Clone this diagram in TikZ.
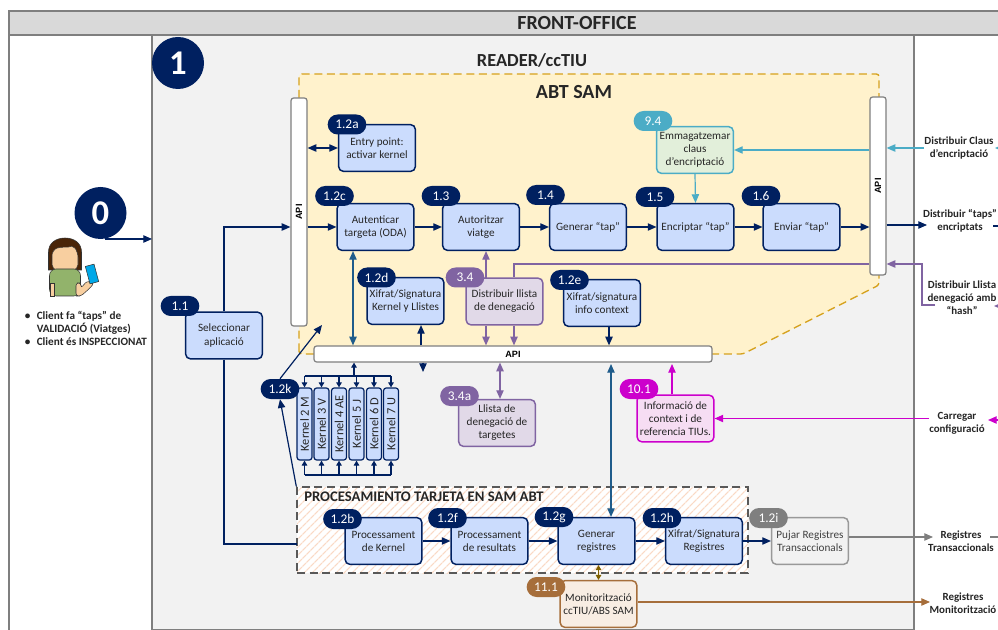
\documentclass[tikz,border=0pt]{standalone}
\usepackage{fontspec}
\setmainfont{Carlito}
\newfontfamily\apifont{Liberation Sans}
\usetikzlibrary{arrows.meta,shapes.misc,patterns.meta}
\definecolor{navy}{HTML}{002060}
\definecolor{boxblue}{HTML}{CBDCFD}
\definecolor{steel}{HTML}{1F5C8B}
\definecolor{lila}{HTML}{8064A2}
\definecolor{lilafill}{HTML}{E1D9E8}
\definecolor{cyanline}{HTML}{4BACC6}
\definecolor{cyanfill}{HTML}{E2EFDA}
\definecolor{magline}{HTML}{CC00CC}
\definecolor{magfill}{HTML}{F6DDF3}
\definecolor{brownline}{HTML}{A66E3B}
\definecolor{brownfill}{HTML}{F8EDE3}
\definecolor{olive}{HTML}{7F6000}
\definecolor{greyline}{HTML}{7F7F7F}
\definecolor{gold}{HTML}{D6A21E}
\definecolor{yellowzone}{HTML}{FFF2CC}
\definecolor{inktext}{HTML}{262626}
\definecolor{hatchline}{HTML}{FAD9C4}
\definecolor{skintone}{HTML}{F8CFA0}
\definecolor{hairtone}{HTML}{4A2508}
\definecolor{shirttone}{HTML}{92B36B}
\definecolor{phonetone}{HTML}{00A8E8}
\newcommand{\vtext}[1]{\rotatebox{90}{#1}}
\begin{document}
\begin{tikzpicture}[x=0.75pt,y=0.75pt,>={Triangle[length=6.5pt,width=5.5pt]}]
\tikzstyle{every node}+=[inner sep=0pt]
\tikzstyle{box}=[draw=navy,fill=boxblue,line width=1.1pt,rounded corners=3.5pt,minimum width=57.5pt,minimum height=35pt,align=center,text=inktext,font=\fontsize{8.4}{9.8}\selectfont]
\tikzstyle{tag}=[rounded rectangle,fill=navy,text=white,minimum width=29pt,minimum height=15pt,font=\fontsize{10}{11}\selectfont]
\tikzstyle{kernelbox}=[draw=navy,fill=boxblue,line width=0.9pt,rounded corners=2pt,minimum width=11.2pt,minimum height=54pt,text=inktext,font=\fontsize{9.3}{10}\selectfont]
\tikzstyle{apibar}=[draw=greyline,fill=white,line width=0.9pt,rounded corners=2pt,font=\apifont\bfseries\fontsize{6.8}{8}\selectfont]
\tikzstyle{outlabel}=[align=center,text=inktext,font=\bfseries\fontsize{8.2}{9.8}\selectfont]
\tikzstyle{number}=[circle,fill=navy,text=white,minimum size=39pt,font=\bfseries\fontsize{26}{28}\selectfont]
\tikzstyle{flow}=[navy,line width=0.9pt]
\tikzstyle{steelflow}=[steel,line width=0.9pt]
\tikzstyle{lilaflow}=[lila,line width=0.9pt]
\tikzstyle{cyanflow}=[cyanline,line width=0.9pt]
\tikzstyle{magflow}=[magline,line width=0.9pt]
\tikzstyle{brownflow}=[brownline,line width=0.9pt]
\tikzstyle{greyflow}=[greyline,line width=0.9pt]
\tikzstyle{smalltip}=[>={Triangle[length=3.8pt,width=4.2pt]}]
\tikzstyle{skin}=[draw=black!80,fill=skintone,line width=0.4pt]
\useasboundingbox (0,0) rectangle (998,-630);
\fill [white] (0,0) rectangle (998,-630);
\draw [greyline,line width=1.1pt,fill=black!15] (9,-11) rectangle (1001,-35);
\draw [greyline,line width=1.1pt] (9,-35) -- (9,-633);
\draw [greyline,line width=1.1pt,fill=black!5] (152,-35) rectangle (914,-629.5);
\draw [gold,line width=1pt,dash pattern=on 6pt off 3.5pt,fill=yellowzone,rounded corners=2pt] (299,-354) -- (299,-74) -- (879,-74) -- (879,-285) -- (743,-354) -- cycle;
\node [font=\bfseries\fontsize{15}{17}\selectfont,text=black!85] (frontoffice) at (577,-23) {FRONT-OFFICE};
\node [font=\bfseries\fontsize{13.8}{15}\selectfont,text=black!85] (reader) at (532,-60) {READER/ccTIU};
\node [font=\bfseries\fontsize{15}{17}\selectfont,text=black!85] (abtsam) at (574,-92) {ABT SAM};
\node [number] (zero) at (100.5,-213) {0};
\node [number] (one) at (178,-63) {1};
\draw [pattern={Lines[angle=45,distance=4pt,line width=1pt]},pattern color=hatchline,draw=none,preaction={fill=white}] (297,-487) rectangle (748,-573);
\node [draw=black!65,dash pattern=on 6pt off 3.5pt,line width=1.1pt,minimum width=338.25pt,minimum height=64.5pt] (procesamiento) at (522.5,-530) {};
\node [anchor=west,font=\bfseries\fontsize{11}{12}\selectfont,text=black!85] (procesatitle) at (304,-497) {PROCESAMIENTO TARJETA EN SAM ABT};
\node [apibar,minimum width=12pt,minimum height=171pt] (apileft) at (299,-212) {\vtext{API}};
\node [apibar,minimum width=12pt,minimum height=133.5pt] (apiright) at (878,-186) {\vtext{API}};
\node [apibar,minimum width=298.5pt,minimum height=12pt] (apimid) at (513,-354) {API};
\node [box] (entrypoint) at (377,-148) {Entry point:\\activar kernel};
\node [box] (autenticar) at (375.5,-227) {Autenticar\\targeta (ODA)};
\node [box] (autoritzar) at (481,-227) {Autoritzar\\viatge};
\node [box] (generartap) at (588,-227) {Generar “tap”};
\node [box] (encriptar) at (695.5,-227) {Encriptar “tap”};
\node [box] (enviar) at (801.5,-227) {Enviar “tap”};
\node [box,draw=cyanline,fill=cyanfill] (emmagatzemar) at (695,-150) {Emmagatzemar\\claus\\d’encriptació};
\node [box] (xifratkernel) at (405.5,-301) {Xifrat/Signatura\\Kernel y Llistes};
\node [box,draw=lila,fill=lilafill] (distribuir) at (504.5,-301.5) {Distribuir llista\\de denegació};
\node [box] (xifratinfo) at (602,-303) {Xifrat/signatura\\info context};
\node [box] (seleccionar) at (224,-335.5) {Seleccionar\\aplicació};
\node [box,draw=lila,fill=lilafill] (llista) at (497,-423) {Llista de\\denegació de\\targetes};
\node [box,draw=magline,fill=magfill] (informacio) at (675.5,-418.5) {Informació de\\context i de\\referencia TIUs.};
\node [box] (processkernel) at (383.5,-541) {Processament\\de Kernel};
\node [box] (processresult) at (489.5,-541) {Processament\\de resultats};
\node [box] (generarreg) at (596.5,-541) {Generar\\registres};
\node [box] (xifratreg) at (704,-541) {Xifrat/Signatura\\Registres};
\node [box,draw=greyline!80,fill=black!5,text=black!75] (pujar) at (810,-541) {Pujar Registres\\Transaccionals};
\node [box,draw=brownline,fill=brownfill] (monitor) at (598.5,-604) {Monitorització\\ccTIU/ABS SAM};
\node [kernelbox] (kernelm) at (304.5,-424) {\vtext{Kernel 2 M}};
\node [kernelbox] (kernelv) at (321.5,-424) {\vtext{Kernel 3 V}};
\node [kernelbox] (kernelae) at (339,-424) {\vtext{Kernel 4 AE}};
\node [kernelbox] (kernelj) at (356.5,-424) {\vtext{Kernel 5 J}};
\node [kernelbox] (kerneld) at (374,-424) {\vtext{Kernel 6 D}};
\node [kernelbox] (kernelu) at (391,-424) {\vtext{Kernel 7 U}};
\node [outlabel] (clauslabel) at (959,-148) {Distribuir Claus\\d’encriptació};
\node [outlabel] (tapslabel) at (960,-221) {Distribuir “taps”\\encriptats};
\node [outlabel] (hashlabel) at (962,-298) {Distribuir Llista\\denegació amb\\“hash”};
\node [outlabel] (carregar) at (957,-423) {Carregar\\configuració};
\node [outlabel] (transaccionals) at (961,-541) {Registres\\Transaccionals};
\node [outlabel] (monitoritzacio) at (963,-603) {Registres\\Monitorització};
\node [anchor=north west,align=left,text=inktext,font=\bfseries\fontsize{8.4}{9.8}\selectfont] (clientlist) at (24.5,-310.5) {\makebox[9pt][l]{\textbullet}Client fa “taps” de\\\hspace*{9pt}VALIDACIÓ (Viatges)\\\makebox[9pt][l]{\textbullet}Client és INSPECCIONAT};
\coordinate (zeroout) at (105,-239);
\coordinate (frontier) at (152,-239);
\coordinate (procin) at (297,-544);
\coordinate (purpletop) at (514,-264);
\coordinate (distribleft) at (486,-278);
\coordinate (tapsout) at (927,-225);
\coordinate (tapstub) at (993,-226);
\coordinate (hashin) at (935,-305);
\coordinate (hashturn) at (922,-305);
\coordinate (hashstub) at (994,-306);
\coordinate (clausstub) at (995,-148);
\coordinate (carregarstub) at (988,-420);
\coordinate (regout) at (933,-537);
\coordinate (regstub) at (990,-537);
\coordinate (monout) at (930,-602);
\coordinate (configin) at (672,-364);
\coordinate (xifratdown) at (423,-372);
\coordinate (bustop) at (354,-376);
\coordinate (busbot) at (347,-475);
\coordinate (kernelup) at (322,-325);
\coordinate (generarup) at (611,-364);
\draw [flow,->] (zeroout) -- (frontier);
\draw [flow,->] (seleccionar.north) |- (apileft.west |- autenticar);
\draw [flow] (seleccionar.south) |- (procin);
\draw [flow,->] (apileft.east |- autenticar) -- (autenticar);
\draw [flow,<->] (apileft.east |- entrypoint) -- (entrypoint);
\draw [flow,->] (autenticar) -- (autoritzar);
\draw [flow,->] (autoritzar) -- (generartap);
\draw [flow,->] (generartap) -- (encriptar);
\draw [flow,->] (encriptar) -- (enviar);
\draw [flow,->] (enviar) -- (enviar -| apiright.west);
\draw [flow,->] (apiright.east |- tapsout) -- (tapsout);
\draw [flow] (tapstub) -- (998,-226);
\draw [cyanflow,->] (clauslabel.west) -- (clauslabel.west -| apiright.east);
\draw [cyanflow,->] (apiright.west |- emmagatzemar) -- (emmagatzemar.east);
\draw [cyanflow,->] (emmagatzemar.south) -- (encriptar.north);
\draw [cyanflow,<-] (clausstub) -- (1002,-148);
\draw [lilaflow] (apiright.west |- purpletop) -- (purpletop) -- (purpletop |- distribuir.north);
\draw [lilaflow,->] (hashin) -- (hashturn) |- (apiright.east |- purpletop);
\draw [lilaflow,<-] (hashstub) -- (1004,-306);
\draw [lilaflow,->] (distribleft) -- (distribleft |- autoritzar.south);
\draw [lilaflow,->] (distribleft |- distribuir.south) -- (distribleft |- apimid.north);
\draw [lilaflow,->] (purpletop |- distribuir.south) -- (purpletop |- apimid.north);
\draw [lilaflow,<->] (apimid.south -| 500,0) -- (llista.north -| 500,0);
\draw [steelflow,<->] (autenticar.south -| 353,0) -- (apimid.north -| 353,0);
\draw [flow,->] (xifratinfo.south -| 609,0) -- (apimid.north -| 609,0);
\draw [flow,->] (apimid.north -| 421,0) -- (xifratkernel.south -| 421,0);
\draw [flow,->] (apimid.south -| 423,0) -- (xifratdown);
\draw [steelflow,<->] (generarup) -- (generarup |- generarreg.north);
\draw [magflow,->] (informacio.north -| configin) -- (configin);
\draw [magflow,->] (carregar.west |- informacio) -- (informacio.east);
\draw [magflow,<-] (carregarstub) -- (1004,-420);
\draw [flow,smalltip,->] (bustop) -- (bustop |- apimid.south);
\draw [flow] (kernelm.north |- bustop) -- (kernelu.north |- bustop);
\draw [flow,smalltip,->] (kernelm.north |- bustop) -- (kernelm.north);
\draw [flow,smalltip,->] (kernelv.north |- bustop) -- (kernelv.north);
\draw [flow,smalltip,->] (kernelae.north |- bustop) -- (kernelae.north);
\draw [flow,smalltip,->] (kernelj.north |- bustop) -- (kernelj.north);
\draw [flow,smalltip,->] (kerneld.north |- bustop) -- (kerneld.north);
\draw [flow,smalltip,->] (kernelu.north |- bustop) -- (kernelu.north);
\draw [flow] (kernelm.south |- busbot) -- (kernelu.south |- busbot);
\draw [flow,smalltip,->] (kernelm.south |- busbot) -- (kernelm.south);
\draw [flow,smalltip,->] (kernelv.south |- busbot) -- (kernelv.south);
\draw [flow,smalltip,->] (kernelae.south |- busbot) -- (kernelae.south);
\draw [flow,smalltip,->] (kernelj.south |- busbot) -- (kernelj.south);
\draw [flow,smalltip,->] (kerneld.south |- busbot) -- (kerneld.south);
\draw [flow,smalltip,->] (kernelu.south |- busbot) -- (kernelu.south);
\draw [flow,->] (processkernel) -- (processresult);
\draw [flow,->] (processresult) -- (generarreg);
\draw [flow,->] (generarreg) -- (xifratreg);
\draw [flow,->] (xifratreg) -- (pujar);
\draw [greyflow,->] (pujar.east |- regout) -- (regout);
\draw [greyflow] (regstub) -- (998,-537);
\draw [olive,line width=0.9pt,smalltip,<->] (generarreg.south -| monitor.north) -- (monitor.north);
\draw [brownflow,->] (monitor.east |- monout) -- (monout);
\node [tag] (tagentry) at (347,-124.5) {1.2a};
\node [tag] (tagautenticar) at (334.5,-196) {1.2c};
\node [tag] (tagautoritzar) at (441,-196) {1.3};
\node [tag] (taggenerar) at (545.5,-195) {1.4};
\node [tag] (tagencriptar) at (655,-197) {1.5};
\node [tag] (tagenviar) at (761,-196) {1.6};
\node [tag,fill=cyanline] (tagclaus) at (653,-121) {9.4};
\node [tag] (tagxifratk) at (376.5,-277.5) {1.2d};
\node [tag,fill=lila] (tagdistribuir) at (465,-277.5) {3.4};
\node [tag] (tagxifrati) at (569.5,-280) {1.2e};
\node [tag] (tagselect) at (180,-306) {1.1};
\node [tag,fill=lila] (taglista) at (459.5,-396) {3.4a};
\node [tag,fill=magline] (taginfo) at (639,-389) {10.1};
\node [tag] (tagk) at (280,-389) {1.2k};
\node [tag] (tagprocessk) at (342.5,-519) {1.2b};
\node [tag] (tagprocessr) at (447.5,-518) {1.2f};
\node [tag] (taggenerarreg) at (554,-517) {1.2g};
\node [tag] (tagxifratreg) at (662,-518) {1.2h};
\node [tag,fill=greyline] (tagpujar) at (768.5,-518) {1.2i};
\node [tag,fill=brownline] (tagmonitor) at (546,-587) {11.1};
\draw [flow,->] (tagk.north) -- (kernelup);
\draw [flow,->] (procesamiento.north west) -- (tagk.south);
\draw [draw=black!80,fill=hairtone,line width=0.4pt] (48.5,-270) -- (48.5,-252) .. controls (48.5,-243) and (56,-238) .. (65,-238) .. controls (74,-238) and (81.5,-243) .. (81.5,-252) -- (81.5,-270) -- cycle;
\draw [skin,rounded corners=4pt] (52,-250) .. controls (60,-247) and (68,-247) .. (72,-244) -- (78,-252) -- (78,-270) -- (52,-270) -- cycle;
\draw [draw=black!80,fill=shirttone,line width=0.4pt,rounded corners=5pt] (49.5,-296) -- (49.5,-269) -- (80.5,-269) -- (80.5,-296) -- cycle;
\draw [skin] (50,-283) rectangle (54,-296);
\draw [skin,rounded corners=2pt] (76,-296) -- (76,-283) -- (81,-283) -- (81,-288) -- (87,-281) -- (94,-283) -- (90,-288) -- (81,-296) -- cycle;
\draw [draw=black!80,fill=phonetone,line width=0.4pt,rotate around={15:(92,-274)}] (87.5,-265) rectangle (96.5,-283);
\end{tikzpicture}
\end{document}
